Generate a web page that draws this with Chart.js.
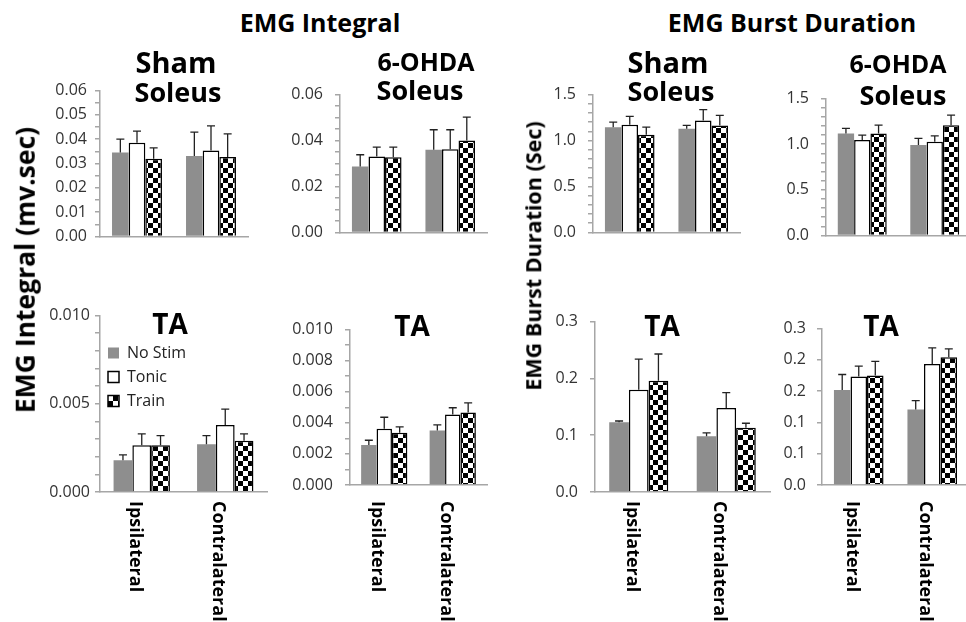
<!DOCTYPE html>
<html><head><meta charset="utf-8">
<script src="https://cdn.jsdelivr.net/npm/chart.js@4.4.0/dist/chart.umd.min.js"></script>
<style>
html,body{margin:0;padding:0;background:#fff;width:966px;height:622px;overflow:hidden;position:relative;font-family:"Open Sans",sans-serif;}
canvas{position:absolute;}
.t{position:absolute;transform:translate(-50%,-50%);font-weight:bold;white-space:nowrap;line-height:1;color:#000;}
.v{position:absolute;transform:translate(-50%,-50%) rotate(-90deg);font-weight:bold;white-space:nowrap;line-height:1;color:#000;}
</style></head><body>
<script>
// ---------- DATA ----------
const categories = ['Ipsilateral', 'Contralateral'];
const seriesNames = ['No Stim', 'Tonic', 'Train'];

// each panel: [No Stim, Tonic, Train], each row = [Ipsilateral, Contralateral]
const intShamSoleus     = [[0.0345, 0.0331], [0.0385, 0.0353], [0.0320, 0.0327]];
const intShamSoleusSD   = [[0.0055, 0.0098], [0.0048, 0.0102], [0.0044, 0.0095]];
const int6ohdaSoleus    = [[0.0287, 0.0360], [0.0331, 0.0362], [0.0327, 0.0400]];
const int6ohdaSoleusSD  = [[0.0051, 0.0087], [0.0040, 0.0085], [0.0044, 0.0102]];
const durShamSoleus     = [[1.145, 1.127], [1.173, 1.218], [1.064, 1.164]];
const durShamSoleusSD   = [[0.055, 0.037], [0.091, 0.118], [0.081, 0.109]];
const dur6ohdaSoleus    = [[1.118, 0.991], [1.045, 1.027], [1.118, 1.209]];
const dur6ohdaSoleusSD  = [[0.055, 0.073], [0.055, 0.064], [0.091, 0.109]];
const intShamTA         = [[0.0018, 0.0027], [0.00265, 0.0038], [0.00265, 0.0029]];
const intShamTASD       = [[0.0003, 0.0005], [0.00065, 0.0009], [0.00055, 0.0004]];
const int6ohdaTA        = [[0.00258, 0.0035], [0.00362, 0.00454], [0.00337, 0.00466]];
const int6ohdaTASD      = [[0.0003, 0.00037], [0.00074, 0.00043], [0.00037, 0.00062]];
const durShamTA         = [[0.123, 0.098], [0.180, 0.148], [0.196, 0.113]];
const durShamTASD       = [[0.002, 0.006], [0.054, 0.027], [0.047, 0.008]];
const dur6ohdaTA        = [[0.182, 0.145], [0.208, 0.232], [0.210, 0.245]];
const dur6ohdaTASD      = [[0.030, 0.017], [0.020, 0.031], [0.027, 0.016]];

// y-axis ticks: [max, step, label every n-th tick, decimals]
const ticksIntSoleus1 = [0.06, 0.005, 2, 2];
const ticksIntSoleus2 = [0.06, 0.005, 4, 2];
const ticksDurSoleus  = [1.5, 0.1, 5, 1];
const ticksIntTA1     = [0.01, 0.001, 5, 3];
const ticksIntTA2     = [0.01, 0.001, 2, 3];
const ticksDurTA1     = [0.3, 0.1, 1, 1];
const ticksDurTA2     = [0.3, 0.06, 1, 1];

// ---------- STYLE / LAYOUT ----------
const AXIS = '#a6a6a6';
function checker(ctx){
  const c = document.createElement('canvas'); c.width = c.height = 10;
  const g = c.getContext('2d');
  g.fillStyle = '#fff'; g.fillRect(0,0,10,10);
  g.fillStyle = '#000'; g.fillRect(0,0,5,5); g.fillRect(5,5,5,5);
  return ctx.createPattern(c, 'repeat');
}

const errorBars = {
  id: 'errorBars',
  afterDatasetsDraw(chart){
    const ctx = chart.ctx, y = chart.scales.y;
    chart.data.datasets.forEach((ds, di) => {
      chart.getDatasetMeta(di).data.forEach((bar, i) => {
        const top = y.getPixelForValue(ds.data[i] + ds.sd[i]);
        ctx.save();
        ctx.strokeStyle = '#222'; ctx.lineWidth = 1.3;
        ctx.beginPath();
        ctx.moveTo(bar.x, bar.y); ctx.lineTo(bar.x, top);
        ctx.moveTo(bar.x - 4, top); ctx.lineTo(bar.x + 4, top);
        ctx.stroke(); ctx.restore();
      });
    });
  }
};

const xLabels = {
  id: 'xLabels',
  afterDraw(chart, args, opts){
    if (!opts.show) return;
    const ctx = chart.ctx, x = chart.scales.x;
    ctx.save();
    ctx.font = 'bold 18px "Open Sans"';
    ctx.fillStyle = '#000';
    ctx.textAlign = 'left'; ctx.textBaseline = 'middle';
    chart.data.labels.forEach((lab, i) => {
      ctx.save();
      ctx.translate(x.getPixelForTick(i) - 7, chart.chartArea.bottom + opts.gap);
      ctx.rotate(Math.PI / 2);
      ctx.fillText(lab, 0, 0);
      ctx.restore();
    });
    ctx.restore();
  }
};

function makePanel(p){
  const yW = 62, padT = 14, padR = 6;
  const xH = p.bottomRow ? 622 - p.B : 2;
  const cw = yW + (p.R - p.L) + padR;
  const ch = padT + (p.B - p.T) + xH;
  const cv = document.createElement('canvas');
  cv.width = cw; cv.height = ch;
  cv.style.left = (p.L - yW) + 'px'; cv.style.top = (p.T - padT) + 'px';
  cv.style.width = cw + 'px'; cv.style.height = ch + 'px';
  document.body.appendChild(cv);
  const ctx = cv.getContext('2d');
  const [max, step, every, dec] = p.ticks;
  const fills = ['#8e8e8e', '#ffffff', checker(ctx)];
  const datasets = seriesNames.map((name, k) => ({
    label: name,
    data: p.mean[k],
    sd: p.sd[k],
    backgroundColor: fills[k],
    borderColor: k === 0 ? '#8e8e8e' : '#000',
    borderWidth: k === 0 ? 0 : 1.5,
    categoryPercentage: 0.675,
    barPercentage: 1
  }));
  new Chart(cv, {
    type: 'bar',
    data: { labels: categories, datasets },
    options: {
      responsive: false, animation: false, devicePixelRatio: 1,
      layout: { padding: { top: padT, right: padR, left: 0, bottom: 0 } },
      plugins: {
        tooltip: { enabled: false },
        legend: p.legend ? {
          display: true, position: 'chartArea', align: 'start',
          labels: { boxWidth: 11, boxHeight: 11, padding: 8, color: '#222',
                    font: { family: 'Open Sans', size: 16, lineHeight: 0.9 } },
          title: { display: true, text: ' ', font: { size: 10 }, padding: { top: 24, bottom: 0 } }
        } : { display: false },
        xLabels: { show: !!p.bottomRow, gap: 501 - p.B }
      },
      scales: {
        x: {
          grid: { display: false, drawTicks: false },
          border: { display: true, color: AXIS, width: 1.5 },
          ticks: { display: false },
          afterFit: s => { s.height = xH; }
        },
        y: {
          min: 0, max: max,
          ticks: {
            stepSize: step, autoSkip: false, color: '#333', padding: p.tickPad,
            font: { family: 'Open Sans', size: 16 },
            callback: (v, i) => (i % every === 0 ? Number(v).toFixed(dec) : '')
          },
          grid: { display: true, drawOnChartArea: false, drawTicks: true, tickLength: 5, color: AXIS, lineWidth: 1.5 },
          border: { display: true, color: AXIS, width: 1.5 },
          afterFit: s => { s.width = yW; }
        }
      }
    },
    plugins: [errorBars, xLabels]
  });
}

makePanel({L:100, R:248, T:87,  B:252, mean:intShamSoleus,  sd:intShamSoleusSD,  ticks:ticksIntSoleus1, tickPad:8});
makePanel({L:340, R:487, T:87,  B:252, mean:int6ohdaSoleus, sd:int6ohdaSoleusSD, ticks:ticksIntSoleus2, tickPad:12});
makePanel({L:593, R:740, T:87,  B:252, mean:durShamSoleus,  sd:durShamSoleusSD,  ticks:ticksDurSoleus,  tickPad:12});
makePanel({L:826, R:971, T:91,  B:255, mean:dur6ohdaSoleus, sd:dur6ohdaSoleusSD, ticks:ticksDurSoleus,  tickPad:12});
makePanel({L:100, R:267, T:315, B:492, mean:intShamTA,  sd:intShamTASD,  ticks:ticksIntTA1, tickPad:5, bottomRow:true, legend:true});
makePanel({L:350, R:487, T:322, B:485, mean:int6ohdaTA, sd:int6ohdaTASD, ticks:ticksIntTA2, tickPad:12, bottomRow:true});
makePanel({L:595, R:770, T:314, B:492, mean:durShamTA,  sd:durShamTASD,  ticks:ticksDurTA1, tickPad:12, bottomRow:true});
makePanel({L:822, R:969, T:322, B:485, mean:dur6ohdaTA, sd:dur6ohdaTASD, ticks:ticksDurTA2, tickPad:11, bottomRow:true});

// ---------- TEXT ----------
function txt(s, x, y, size, cls){
  const d = document.createElement('div');
  d.className = cls || 't'; d.textContent = s;
  d.style.left = x + 'px'; d.style.top = y + 'px'; d.style.fontSize = size + 'px';
  document.body.appendChild(d);
}
txt('EMG Integral', 320, 22, 25);
txt('EMG Burst Duration', 792, 22, 25);
txt('Sham', 176, 61, 29);   txt('Soleus', 178, 91, 27);
txt('6-OHDA', 426, 61, 25); txt('Soleus', 420, 89, 27);
txt('Sham', 668, 61, 29);   txt('Soleus', 671, 90, 27);
txt('6-OHDA', 898, 63, 25); txt('Soleus', 903, 94, 27);
txt('TA', 170, 323, 28); txt('TA', 412, 325, 28); txt('TA', 662, 325, 28); txt('TA', 881, 325, 28);
txt('EMG Integral (mv.sec)', 25, 270, 26.5, 'v');
txt('EMG Burst Duration (Sec)', 533, 256, 21.5, 'v');
</script>
</body></html>
